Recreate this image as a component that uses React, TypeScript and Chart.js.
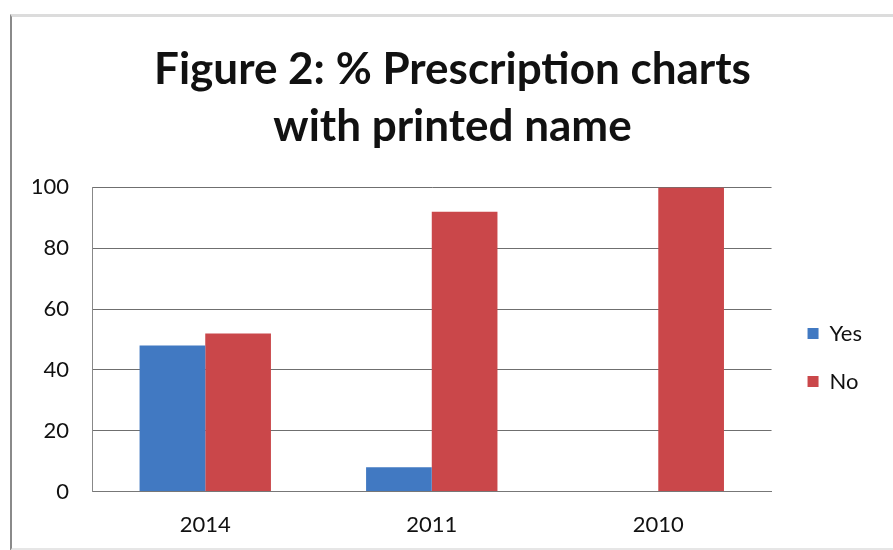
import React, { useEffect, useRef } from "react";
import { Chart, registerables } from "chart.js";

Chart.register(...registerables);

const categories = ["2014", "2011", "2010"];
const yesValues = [48, 8, 0];
const noValues = [52, 92, 100];
const titleLines = ["Figure 2: % Prescription charts", "with printed name"];

export default function App() {
  const ref = useRef<HTMLCanvasElement | null>(null);

  useEffect(() => {
    if (!ref.current) return;
    const chart = new Chart(ref.current, {
      type: "bar",
      data: {
        labels: categories,
        datasets: [
          {
            label: "Yes",
            data: yesValues,
            backgroundColor: "#4179c2",
            categoryPercentage: 0.58,
            barPercentage: 1,
          },
          {
            label: "No",
            data: noValues,
            backgroundColor: "#ca474a",
            categoryPercentage: 0.58,
            barPercentage: 1,
          },
        ],
      },
      options: {
        animation: false,
        responsive: false,
        maintainAspectRatio: false,
        layout: { padding: { left: 33, right: 21, top: 41, bottom: 0 } },
        plugins: {
          title: {
            display: true,
            text: titleLines,
            color: "#111",
            font: { family: "Lato", size: 44, weight: "bold", lineHeight: 1.3 },
            padding: { top: 0, bottom: 32 },
          },
          legend: {
            position: "right",
            title: {
              display: true,
              text: " ",
              font: { family: "Lato", size: 10, lineHeight: 1.2 },
              padding: { top: 56, bottom: 56 },
            },
            labels: {
              color: "#111",
              font: { family: "Lato", size: 22 },
              boxWidth: 11,
              boxHeight: 11,
              padding: 26,
            },
          },
          tooltip: { enabled: false },
        },
        scales: {
          x: {
            grid: { display: false },
            border: { display: true, color: "#777" },
            ticks: { color: "#111", font: { family: "Lato", size: 22 }, padding: 12 },
          },
          y: {
            min: 0,
            max: 100,
            afterFit: (s: any) => {
              s.width = 59;
            },
            ticks: { stepSize: 20, color: "#111", font: { family: "Lato", size: 22 }, padding: 23 },
            grid: { color: "#6f6f6f", drawTicks: false },
            border: { display: true, color: "#888" },
          },
          gap: {
            type: "linear",
            position: "right",
            display: true,
            afterFit: (s: any) => {
              s.width = 10;
            },
            ticks: { display: false },
            grid: { display: false, drawTicks: false },
            border: { display: false },
          },
        },
      },
    });
    return () => chart.destroy();
  }, []);

  return (
    <div style={{ position: "fixed", left: 0, top: 0, width: 893, height: 550, background: "#fff" }}>
      <div
        style={{
          position: "absolute",
          left: 10,
          top: 14,
          width: 900,
          height: 531,
          borderLeft: "2px solid #8a8a8a",
          borderTop: "3px solid #dcdcdc",
          borderBottom: "3px solid #e6e6e6",
        }}
      />
      <canvas ref={ref} width={893} height={550} style={{ position: "absolute", left: 0, top: 0 }} />
    </div>
  );
}
